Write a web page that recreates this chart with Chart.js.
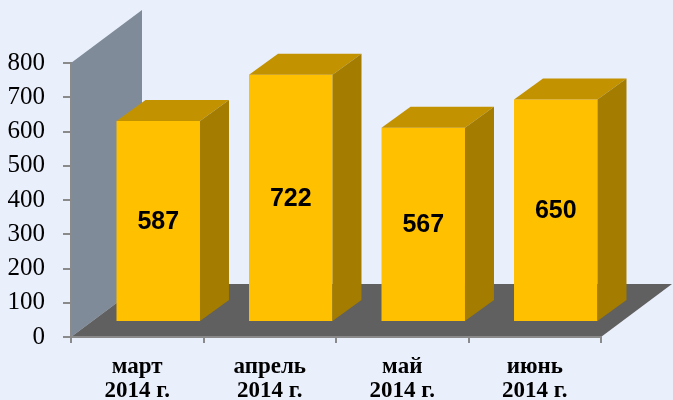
<!DOCTYPE html>
<html><head><meta charset="utf-8">
<script src="https://cdn.jsdelivr.net/npm/chart.js@4/dist/chart.umd.min.js"></script>
<style>html,body{margin:0;padding:0;background:#EAEFFC;} canvas{display:block}</style>
</head><body>
<canvas id="c" width="673" height="400"></canvas>
<script>
const categories = [['март', '2014 г.'], ['апрель', '2014 г.'], ['май', '2014 г.'], ['июнь', '2014 г.']];
const values = [587, 722, 567, 650];
const yMin = 0, yMax = 800, yStep = 100;

const BAR_SHIFT = {x: 21, y: -15};
const BAR_DEPTH = {x: 29, y: -21};
const WALL_DEPTH = {x: 71, y: -53};
const COL = {bg: '#EAEFFC', wall: '#7F8B98', floor: '#606060', front: '#FFC000', top: '#C39200', side: '#A37C00', axis: '#8A8A8A'};

const plugin3d = {
  id: 'plugin3d',
  beforeDraw(chart) {
    const ctx = chart.ctx;
    ctx.save();
    ctx.fillStyle = COL.bg;
    ctx.fillRect(0, 0, chart.width, chart.height);
    const ys = chart.scales.y;
    const {left, right} = chart.chartArea;
    const top = ys.getPixelForValue(yMax), bot = ys.getPixelForValue(yMin);
    ctx.fillStyle = COL.wall;
    ctx.beginPath();
    ctx.moveTo(left, top);
    ctx.lineTo(left + WALL_DEPTH.x, top + WALL_DEPTH.y);
    ctx.lineTo(left + WALL_DEPTH.x, bot + WALL_DEPTH.y);
    ctx.lineTo(left, bot);
    ctx.closePath();
    ctx.fill();
    ctx.fillStyle = COL.floor;
    ctx.beginPath();
    ctx.moveTo(left, bot);
    ctx.lineTo(left + WALL_DEPTH.x, bot + WALL_DEPTH.y);
    ctx.lineTo(right + WALL_DEPTH.x, bot + WALL_DEPTH.y);
    ctx.lineTo(right, bot);
    ctx.closePath();
    ctx.fill();
    ctx.restore();
  },
  beforeDatasetsDraw(chart) {
    chart.ctx.save();
    chart.ctx.translate(BAR_SHIFT.x, BAR_SHIFT.y);
  },
  afterDatasetsDraw(chart) {
    const ctx = chart.ctx;
    const meta = chart.getDatasetMeta(0);
    meta.data.forEach((bar, i) => {
      const p = bar.getProps(['x', 'y', 'base', 'width'], true);
      const l = p.x - p.width / 2, r = p.x + p.width / 2;
      ctx.fillStyle = COL.top;
      ctx.beginPath();
      ctx.moveTo(l, p.y);
      ctx.lineTo(l + BAR_DEPTH.x, p.y + BAR_DEPTH.y);
      ctx.lineTo(r + BAR_DEPTH.x, p.y + BAR_DEPTH.y);
      ctx.lineTo(r, p.y);
      ctx.closePath();
      ctx.fill();
      ctx.fillStyle = COL.side;
      ctx.beginPath();
      ctx.moveTo(r, p.y);
      ctx.lineTo(r + BAR_DEPTH.x, p.y + BAR_DEPTH.y);
      ctx.lineTo(r + BAR_DEPTH.x, p.base + BAR_DEPTH.y);
      ctx.lineTo(r, p.base);
      ctx.closePath();
      ctx.fill();
      ctx.fillStyle = '#000';
      ctx.font = 'bold 25px "Liberation Sans", Arial, sans-serif';
      ctx.textAlign = 'center';
      ctx.textBaseline = 'middle';
      ctx.fillText(String(values[i]), p.x, (p.y + p.base) / 2 + 1);
    });
    ctx.restore();
  }
};

new Chart(document.getElementById('c'), {
  type: 'bar',
  data: {
    labels: categories,
    datasets: [{
      data: values,
      backgroundColor: COL.front,
      borderWidth: 0,
      barPercentage: 0.63,
      categoryPercentage: 1,
      clip: false
    }]
  },
  options: {
    responsive: false,
    animation: false,
    layout: {padding: {top: 63, right: 72, left: 0, bottom: 0}},
    plugins: {legend: {display: false}, tooltip: {enabled: false}},
    scales: {
      x: {
        grid: {display: true, drawOnChartArea: false, drawTicks: true, tickLength: 6, color: COL.axis, lineWidth: 2, offset: true},
        border: {display: true, color: COL.axis, width: 2},
        ticks: {color: '#000', padding: 12, font: {family: '"Liberation Serif", "Times New Roman", serif', size: 23, weight: 'bold', lineHeight: 1.05}},
        afterFit(s) { s.height = 63; }
      },
      y: {
        min: yMin, max: yMax,
        grid: {display: true, drawOnChartArea: false, drawTicks: true, tickLength: 8, color: COL.axis, lineWidth: 2},
        border: {display: true, color: COL.axis, width: 2},
        ticks: {stepSize: yStep, color: '#000', padding: 18, font: {family: '"Liberation Serif", "Times New Roman", serif', size: 25}},
        afterFit(s) { s.width = 71; }
      }
    }
  },
  plugins: [plugin3d]
});
</script>
</body></html>
